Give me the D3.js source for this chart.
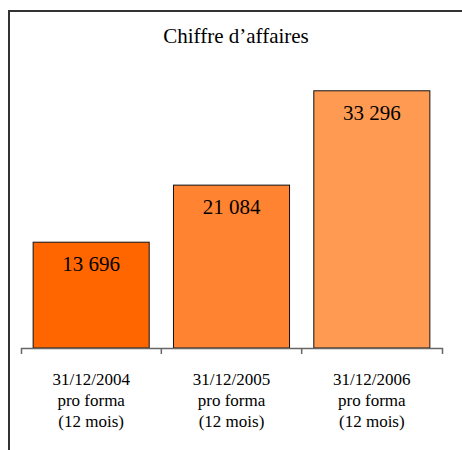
<!DOCTYPE html>
<html>
<head>
<meta charset="utf-8">
<script src="https://cdn.jsdelivr.net/npm/d3@7"></script>
<style>
  html, body { margin: 0; padding: 0; background: #fff; }
  svg text { font-family: "Liberation Serif", "Times New Roman", serif; }
</style>
</head>
<body>
<div id="chart"></div>
<script>
const categories = ["31/12/2004", "31/12/2005", "31/12/2006"];
const subLabels = ["pro forma", "(12 mois)"];
const values = [13696, 21084, 33296];
const colors = ["#ff6600", "#ff8330", "#ff9a52"];
const title = "Chiffre d\u2019affaires";
const serif = "'Liberation Serif', 'Times New Roman', serif";

const w = 462, h = 450;
const svg = d3.select("#chart").append("svg").attr("width", w).attr("height", h);

// frame (top + left only, the rest is cut off)
svg.append("path")
  .attr("d", "M9,450V11H462")
  .attr("fill", "none")
  .attr("stroke", "#333")
  .attr("stroke-width", 2);

svg.append("text")
  .attr("x", 236).attr("y", 43)
  .attr("text-anchor", "middle")
  .style("font-family", serif)
  .style("font-size", "21px")
  .text(title);

const x = d3.scaleBand().domain(categories).range([21, 442]).paddingInner(0.173).paddingOuter(0.0865);
const y = d3.scaleLinear().domain([0, 40000]).range([348, 39]);
const fmt = v => d3.format(",")(v).replace(/,/g, " ");

svg.selectAll("rect.bar")
  .data(values)
  .join("rect")
  .attr("class", "bar")
  .attr("x", (d, i) => x(categories[i]))
  .attr("y", d => y(d))
  .attr("width", x.bandwidth())
  .attr("height", d => y(0) - y(d))
  .attr("fill", (d, i) => colors[i])
  .attr("stroke", "#111")
  .attr("stroke-width", 1);

svg.selectAll("text.val")
  .data(values)
  .join("text")
  .attr("class", "val")
  .attr("x", (d, i) => x(categories[i]) + x.bandwidth() / 2)
  .attr("y", d => y(d) + 29)
  .attr("text-anchor", "middle")
  .style("font-family", serif)
  .style("font-size", "21px")
  .text(fmt);

// axis line with end ticks
const ax = svg.append("g").attr("transform", `translate(0,${y(0)})`)
  .call(d3.axisBottom(x).tickSizeInner(0).tickSizeOuter(6).tickFormat(""));
ax.select(".domain").attr("stroke", "#666").attr("stroke-width", 1.5);
ax.selectAll(".tick").remove();

// ticks between categories
svg.selectAll("line.sep")
  .data(categories.slice(1))
  .join("line")
  .attr("class", "sep")
  .attr("x1", d => x(d) - x.step() * x.paddingInner() / 2)
  .attr("x2", d => x(d) - x.step() * x.paddingInner() / 2)
  .attr("y1", y(0)).attr("y2", y(0) + 6)
  .attr("stroke", "#666").attr("stroke-width", 1.5);

const lab = svg.selectAll("text.cat")
  .data(categories)
  .join("text")
  .attr("class", "cat")
  .attr("text-anchor", "middle")
  .style("font-family", serif)
  .style("font-size", "17px");
[null, ...subLabels].forEach((s, k) => {
  lab.append("tspan")
    .attr("x", d => x(d) + x.bandwidth() / 2)
    .attr("y", 385 + k * 21)
    .text(d => s === null ? d : s);
});
</script>
</body>
</html>
